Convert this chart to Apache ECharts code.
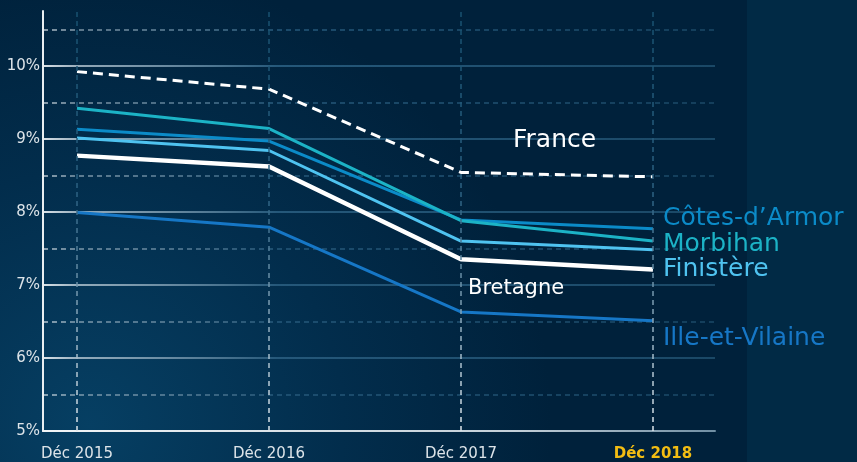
<!DOCTYPE html>
<html>
<head>
<meta charset="utf-8">
<script src="https://cdn.jsdelivr.net/npm/echarts@6/dist/echarts.min.js"></script>
<style>
    html, body {margin: 0; padding: 0; background: #00223c;}
    #chart {width: 857px; height: 462px;}
</style>
</head>
<body>
<div id="chart"></div>
<script>
// categories and values (%)
const years = ['Déc 2015', 'Déc 2016', 'Déc 2017', 'Déc 2018'];
const yTicks = [5, 6, 7, 8, 9, 10];
const france = [9.92, 9.68, 8.54, 8.48];
const morbihan = [9.42, 9.14, 7.88, 7.60];
const cotesArmor = [9.13, 8.97, 7.89, 7.77];
const finistere = [9.01, 8.84, 7.60, 7.48];
const bretagne = [8.77, 8.62, 7.35, 7.21];
const illeVilaine = [7.99, 7.79, 6.63, 6.51];

const font = 'DejaVu Sans';
const G = echarts.graphic;

function toPoints(arr) {
    return arr.map((v, i) => [i, v]);
}

// gridlines fade from white (left) to dark blue (right)
function hGrad(a) {
    return new G.LinearGradient(0, 0, 1, 0, [
        {offset: 0, color: 'rgba(235,240,244,' + a + ')'},
        {offset: 0.06, color: 'rgba(180,198,210,' + (a * 0.85) + ')'},
        {offset: 0.35, color: '#25587a'},
        {offset: 1, color: '#1a4866'}
    ]);
}
const solidGrad = hGrad(0.95);
const dashGrad = hGrad(0.8);
const solidColors = yTicks.map(() => solidGrad).concat(['rgba(0,0,0,0)']);

function lineSeries(name, data, color, width, extra) {
    return Object.assign({
        name: name,
        type: 'line',
        data: toPoints(data),
        symbol: 'none',
        z: 3,
        lineStyle: {color: color, width: width}
    }, extra || {});
}

function endLabel(color, dy) {
    return {
        show: true,
        formatter: '{a}',
        color: color,
        fontFamily: font,
        fontSize: 25,
        distance: 10,
        offset: [0, dy]
    };
}

const option = {
    animation: false,
    backgroundColor: '#00223c',
    graphic: [
        {
            type: 'rect', z: -10, silent: true,
            shape: {x: 0, y: 0, width: 747, height: 462},
            style: {
                fill: new G.RadialGradient(0.12, 0.92, 1.0, [
                    {offset: 0, color: '#063f63'},
                    {offset: 0.55, color: '#022d4c'},
                    {offset: 1, color: '#00213b'}
                ])
            }
        },
        {
            type: 'rect', z: -10, silent: true,
            shape: {x: 747, y: 0, width: 110, height: 462},
            style: {fill: '#012a45'}
        },
        {
            type: 'text', z: 10, left: 513, top: 128,
            style: {text: 'France', fill: '#ffffff', font: '25px "DejaVu Sans"'}
        },
        {
            type: 'text', z: 10, left: 468, top: 278,
            style: {text: 'Bretagne', fill: '#ffffff', font: '21px "DejaVu Sans"'}
        }
    ],
    grid: {
        left: 43,
        top: 11,
        right: 142,
        bottom: 31,
        containLabel: false
    },
    xAxis: {
        type: 'value',
        min: -0.177,
        max: 3.323,
        splitLine: {show: false},
        axisTick: {show: false},
        axisLine: {
            onZero: false,
            lineStyle: {
                width: 2,
                color: new G.LinearGradient(0, 0, 1, 0, [
                    {offset: 0, color: '#f2f5f7'},
                    {offset: 0.7, color: '#c3cfd8'},
                    {offset: 1, color: '#6f8ea3'}
                ])
            }
        },
        axisLabel: {
            customValues: [0, 1, 2, 3],
            margin: 16,
            color: '#dde4e9',
            fontFamily: font,
            fontSize: 15,
            formatter: (v) => v === 3 ? '{hi|' + years[v] + '}' : years[v],
            rich: {
                hi: {color: '#f2bd13', fontWeight: 'bold', fontFamily: font, fontSize: 15}
            }
        }
    },
    yAxis: [
        {
            type: 'value',
            min: 5,
            max: 10.75,
            interval: 1,
            axisLine: {
                show: true,
                onZero: false,
                lineStyle: {color: '#e9eef1', width: 2}
            },
            axisTick: {show: false},
            axisLabel: {
                margin: 3,
                color: '#dde4e9',
                fontFamily: font,
                fontSize: 15,
                formatter: (v) => yTicks.indexOf(v) >= 0 ? v + '%' : ''
            },
            splitLine: {
                show: true,
                lineStyle: {color: solidColors, width: 2}
            }
        },
        {
            type: 'value',
            min: 5,
            max: 10.75,
            interval: 0.5,
            axisLine: {show: false, onZero: false},
            axisTick: {show: false},
            axisLabel: {show: false},
            splitLine: {
                show: true,
                lineStyle: {color: ['rgba(0,0,0,0)', dashGrad], width: 1.5, type: [5, 4]}
            }
        }
    ],
    series: [
        {
            name: 'grid-x',
            type: 'line',
            data: [],
            z: 1,
            markLine: {
                silent: true,
                symbol: 'none',
                label: {show: false},
                lineStyle: {
                    type: [5, 4],
                    width: 1.5,
                    color: new G.LinearGradient(0, 0, 0, 1, [
                        {offset: 0, color: '#17506f'},
                        {offset: 0.45, color: '#2d6283'},
                        {offset: 1, color: '#dfe7ec'}
                    ])
                },
                data: years.map((y, i) => ({xAxis: i}))
            }
        },
        lineSeries('Ille-et-Vilaine', illeVilaine, '#1677c6', 3, {endLabel: endLabel('#1677c6', 18)}),
        lineSeries('Finistère', finistere, '#4fc3f0', 3, {endLabel: endLabel('#4fc3f0', 20)}),
        lineSeries('Côtes-d\u2019Armor', cotesArmor, '#0b8bc8', 3, {endLabel: endLabel('#0b8bc8', -10)}),
        lineSeries('Morbihan', morbihan, '#1cb3c6', 3, {endLabel: endLabel('#1cb3c6', 3)}),
        lineSeries('Bretagne', bretagne, '#ffffff', 4.5),
        lineSeries('France', france, '#ffffff', 3, {
            lineStyle: {color: '#ffffff', width: 3, type: [10, 6]}
        })
    ]
};

const chart = echarts.init(document.getElementById('chart'));
chart.setOption(option);
</script>
</body>
</html>
